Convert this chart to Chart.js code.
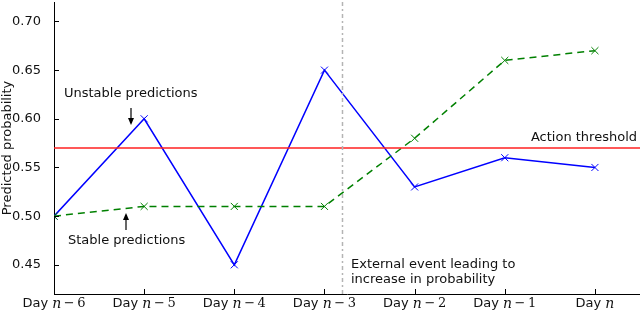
<!DOCTYPE html>
<html lang="en">
<head>
<meta charset="UTF-8">
<title>Predicted probability</title>
<script src="https://cdn.jsdelivr.net/npm/chart.js@4.4.0/dist/chart.umd.min.js"></script>
<style>
    html, body { margin: 0; padding: 0; background: #fff; }
    #wrap { width: 640px; height: 312px; }
</style>
</head>
<body>
<div id="wrap"><canvas id="chart" width="640" height="312"></canvas></div>
<script>
    // Data
    const dayOffsets = ['6', '5', '4', '3', '2', '1', ''];
    const unstable = [0.50, 0.60, 0.45, 0.65, 0.53, 0.56, 0.55];
    const stable = [0.50, 0.51, 0.51, 0.51, 0.58, 0.66, 0.67];
    const threshold = 0.57;
    const eventDay = 3.2;
    const yTicks = [0.45, 0.50, 0.55, 0.60, 0.65, 0.70];

    const FONT = '"DejaVu Sans", sans-serif';
    const TXT = '#111';

    // inward ticks, math-style x labels and annotations
    const decorations = {
        id: 'decorations',
        afterDraw(chart) {
            const ctx = chart.ctx;
            const x = chart.scales.x, y = chart.scales.y;
            const area = chart.chartArea;
            ctx.save();
            ctx.strokeStyle = '#000';
            ctx.lineWidth = 1;
            ctx.beginPath();
            yTicks.forEach(v => {
                const py = Math.round(y.getPixelForValue(v)) + 0.5;
                ctx.moveTo(area.left, py);
                ctx.lineTo(area.left + 5, py);
            });
            dayOffsets.forEach((d, i) => {
                const px = Math.round(x.getPixelForValue(i)) + 0.5;
                ctx.moveTo(px, area.bottom);
                ctx.lineTo(px, area.bottom - 5);
            });
            ctx.stroke();

            // x tick labels: "Day n-k"
            ctx.fillStyle = TXT;
            ctx.textBaseline = 'middle';
            dayOffsets.forEach((d, i) => {
                const cx = x.getPixelForValue(i);
                const parts = [
                    ['Day ', '13px ' + FONT],
                    ['n', 'italic 14px "DejaVu Serif", serif']
                ];
                if (d) parts.push(['\u2009\u2212\u2009' + d, '13px "DejaVu Serif", serif']);
                let w = 0;
                parts.forEach(p => { ctx.font = p[1]; w += ctx.measureText(p[0]).width; });
                let sx = cx - w / 2;
                ctx.textAlign = 'left';
                parts.forEach(p => {
                    ctx.font = p[1];
                    ctx.fillText(p[0], sx, 304);
                    sx += ctx.measureText(p[0]).width;
                });
            });

            // annotations
            ctx.font = '13px ' + FONT;
            ctx.textAlign = 'left';
            ctx.fillText('Unstable predictions', 64, 94);
            ctx.fillText('Stable predictions', 68, 241);
            ctx.fillText('External event leading to', 351, 265);
            ctx.fillText('increase in probability', 351, 280);
            ctx.textAlign = 'right';
            ctx.fillText('Action threshold', 637, 138);

            const arrow = (ax, y0, y1) => {
                const dir = y1 > y0 ? 1 : -1;
                ctx.strokeStyle = '#000';
                ctx.lineWidth = 1.2;
                ctx.beginPath();
                ctx.moveTo(ax, y0);
                ctx.lineTo(ax, y1 - dir * 2);
                ctx.stroke();
                ctx.fillStyle = '#000';
                ctx.beginPath();
                ctx.moveTo(ax, y1);
                ctx.lineTo(ax - 3, y1 - dir * 7);
                ctx.lineTo(ax + 3, y1 - dir * 7);
                ctx.closePath();
                ctx.fill();
            };
            arrow(131, 108, 125);
            arrow(126, 230, 213);
            ctx.restore();
        }
    };

    const pts = arr => arr.map((v, i) => ({ x: i, y: v }));

    new Chart(document.getElementById('chart'), {
        type: 'line',
        data: {
            datasets: [
                {
                    data: [{ x: eventDay, y: 0.42 }, { x: eventDay, y: 0.72 }],
                    borderColor: '#b4b4b4',
                    borderWidth: 1.5,
                    borderDash: [4, 3, 2, 3],
                    pointRadius: 0
                },
                {
                    data: [{ x: 0, y: threshold }, { x: 6.5, y: threshold }],
                    borderColor: '#ff2020',
                    borderWidth: 1.5,
                    pointRadius: 0
                },
                {
                    label: 'Stable predictions',
                    data: pts(stable),
                    borderColor: '#008000',
                    borderWidth: 1.5,
                    borderDash: [7, 5],
                    pointStyle: 'crossRot',
                    pointRadius: 5,
                    pointBorderWidth: 1,
                    pointBorderColor: '#008000'
                },
                {
                    label: 'Unstable predictions',
                    data: pts(unstable),
                    borderColor: '#0000ff',
                    borderWidth: 1.5,
                    pointStyle: 'crossRot',
                    pointRadius: 5,
                    pointBorderWidth: 1,
                    pointBorderColor: '#0000ff'
                }
            ]
        },
        options: {
            responsive: false,
            animation: false,
            layout: { autoPadding: false, padding: { top: 2, right: 0, left: 0, bottom: 0 } },
            plugins: { legend: { display: false }, tooltip: { enabled: false } },
            scales: {
                x: {
                    type: 'linear',
                    min: 0,
                    max: 6.5,
                    grid: { display: false },
                    border: { display: true, color: '#000', width: 1 },
                    ticks: { display: false, stepSize: 1, includeBounds: false },
                    afterFit: s => { s.height = 18; s.paddingLeft = 0; s.paddingRight = 0; }
                },
                y: {
                    min: 0.42,
                    max: 0.72,
                    grid: { display: false },
                    border: { display: true, color: '#000', width: 1 },
                    afterBuildTicks: s => { s.ticks = yTicks.map(v => ({ value: v })); },
                    ticks: {
                        padding: 5,
                        color: TXT,
                        font: { family: FONT, size: 13 },
                        callback: v => v.toFixed(2)
                    },
                    title: {
                        display: true,
                        text: 'Predicted probability',
                        color: TXT,
                        padding: 0,
                        font: { family: FONT, size: 13 }
                    },
                    afterFit: s => { s.width = 54; s.paddingTop = 0; s.paddingBottom = 0; }
                }
            }
        },
        plugins: [decorations]
    });
</script>
</body>
</html>
